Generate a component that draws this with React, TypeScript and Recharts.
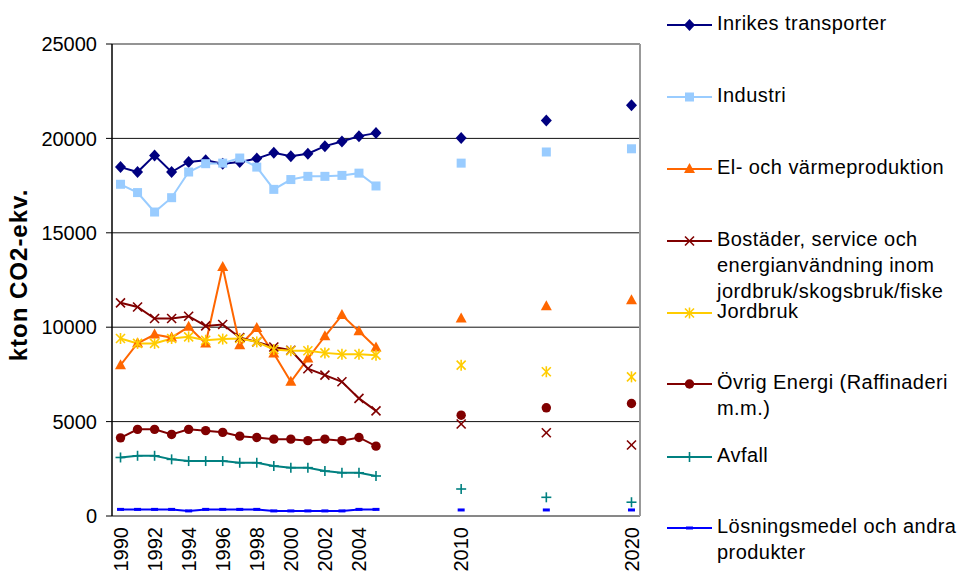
import React from 'react';
import { LineChart, Line, XAxis, YAxis, CartesianGrid, ReferenceLine } from 'recharts';

const FONT = '"Liberation Sans", Arial, sans-serif';

const YEARS = [
  1990, 1991, 1992, 1993, 1994, 1995, 1996, 1997, 1998, 1999, 2000, 2001, 2002, 2003, 2004, 2005,
  2006, 2007, 2008, 2009, 2010, 2011, 2012, 2013, 2014, 2015, 2016, 2017, 2018, 2019, 2020,
];
const HIST_YEARS = [1990, 1991, 1992, 1993, 1994, 1995, 1996, 1997, 1998, 1999, 2000, 2001, 2002, 2003, 2004, 2005];
const PROJ_YEARS = [2010, 2015, 2020];
const X_LABELS = [1990, 1992, 1994, 1996, 1998, 2000, 2002, 2004, 2010, 2020];
const Y_TICKS = [0, 5000, 10000, 15000, 20000, 25000];

const transportHist = [18480, 18220, 19100, 18220, 18750, 18840, 18660, 18750, 18930, 19240, 19060, 19190, 19590, 19840, 20120, 20280];
const transportProj = [20020, 20950, 21750];
const industriHist = [17570, 17130, 16100, 16860, 18220, 18660, 18690, 18960, 18480, 17300, 17820, 17990, 17990, 18040, 18160, 17480];
const industriProj = [18690, 19280, 19450];
const elHist = [7990, 9150, 9610, 9450, 10020, 9140, 13190, 9050, 9960, 8610, 7110, 8340, 9520, 10640, 9790, 8920];
const elProj = [10460, 11110, 11430];
const bostaderHist = [11290, 11070, 10460, 10460, 10580, 10070, 10140, 9450, 9220, 8950, 8780, 7800, 7460, 7110, 6230, 5570];
const bostaderProj = [4870, 4410, 3760];
const jordbrukHist = [9400, 9140, 9140, 9400, 9490, 9310, 9370, 9400, 9220, 8820, 8750, 8750, 8640, 8570, 8570, 8520];
const jordbrukProj = [7990, 7640, 7370];
const ovrigHist = [4140, 4590, 4590, 4320, 4590, 4520, 4430, 4230, 4160, 4070, 4070, 3990, 4070, 3990, 4160, 3700];
const ovrigProj = [5340, 5730, 5960];
const avfallHist = [3100, 3190, 3190, 3000, 2910, 2910, 2910, 2820, 2820, 2650, 2560, 2560, 2380, 2290, 2290, 2120];
const avfallProj = [1430, 990, 730];
const losningHist = [350, 350, 350, 350, 270, 350, 350, 350, 350, 270, 270, 270, 270, 270, 350, 350];
const losningProj = [320, 320, 320];

type Marker = 'diamond' | 'square' | 'triangle' | 'x' | 'asterisk' | 'circle' | 'plus' | 'dash';

const SERIES: { key: string; name: string[]; color: string; marker: Marker; hist: number[]; proj: number[] }[] = [
  { key: 'transport', name: ['Inrikes transporter'], color: '#000080', marker: 'diamond', hist: transportHist, proj: transportProj },
  { key: 'industri', name: ['Industri'], color: '#99CCFF', marker: 'square', hist: industriHist, proj: industriProj },
  { key: 'el', name: ['El- och värmeproduktion'], color: '#FF6600', marker: 'triangle', hist: elHist, proj: elProj },
  { key: 'bostader', name: ['Bostäder, service och', 'energianvändning inom', 'jordbruk/skogsbruk/fiske'], color: '#800000', marker: 'x', hist: bostaderHist, proj: bostaderProj },
  { key: 'jordbruk', name: ['Jordbruk'], color: '#FFCC00', marker: 'asterisk', hist: jordbrukHist, proj: jordbrukProj },
  { key: 'ovrig', name: ['Övrig Energi (Raffinaderi', 'm.m.)'], color: '#800000', marker: 'circle', hist: ovrigHist, proj: ovrigProj },
  { key: 'avfall', name: ['Avfall'], color: '#008080', marker: 'plus', hist: avfallHist, proj: avfallProj },
  { key: 'losning', name: ['Lösningsmedel och andra', 'produkter'], color: '#0000FF', marker: 'dash', hist: losningHist, proj: losningProj },
];

const LEGEND_Y = [25, 97, 169, 241, 313, 384, 457, 528];

const data = YEARS.map((year) => {
  const row: Record<string, number | null> = { year };
  SERIES.forEach((s) => {
    const hi = HIST_YEARS.indexOf(year);
    const pi = PROJ_YEARS.indexOf(year);
    row[s.key] = hi >= 0 ? s.hist[hi] : pi >= 0 ? s.proj[pi] : null;
  });
  return row;
});

const BOUNDS = [...YEARS.map((y) => y - 0.5), YEARS[YEARS.length - 1] + 0.5];

function markerShape(type: Marker, color: string, cx: number, cy: number, key?: string) {
  const sw = 1.6;
  switch (type) {
    case 'diamond':
      return <path key={key} d={`M${cx},${cy - 6} L${cx + 5.5},${cy} L${cx},${cy + 6} L${cx - 5.5},${cy} Z`} fill={color} />;
    case 'square':
      return <rect key={key} x={cx - 4.5} y={cy - 4.5} width={9} height={9} fill={color} />;
    case 'triangle':
      return <path key={key} d={`M${cx},${cy - 6} L${cx + 5.5},${cy + 4} L${cx - 5.5},${cy + 4} Z`} fill={color} />;
    case 'x':
      return (
        <g key={key} stroke={color} strokeWidth={sw}>
          <line x1={cx - 4.5} y1={cy - 4.5} x2={cx + 4.5} y2={cy + 4.5} />
          <line x1={cx - 4.5} y1={cy + 4.5} x2={cx + 4.5} y2={cy - 4.5} />
        </g>
      );
    case 'asterisk':
      return (
        <g key={key} stroke={color} strokeWidth={sw}>
          <line x1={cx - 4.5} y1={cy - 4.5} x2={cx + 4.5} y2={cy + 4.5} />
          <line x1={cx - 4.5} y1={cy + 4.5} x2={cx + 4.5} y2={cy - 4.5} />
          <line x1={cx} y1={cy - 5.5} x2={cx} y2={cy + 5.5} />
        </g>
      );
    case 'circle':
      return <circle key={key} cx={cx} cy={cy} r={4.7} fill={color} />;
    case 'plus':
      return (
        <g key={key} stroke={color} strokeWidth={sw}>
          <line x1={cx - 5} y1={cy} x2={cx + 5} y2={cy} />
          <line x1={cx} y1={cy - 5} x2={cx} y2={cy + 5} />
        </g>
      );
    case 'dash':
    default:
      return <rect key={key} x={cx - 3.5} y={cy - 1.5} width={7} height={3} fill={color} />;
  }
}

function makeDot(type: Marker, color: string) {
  return (props: any) => {
    const { cx, cy, index, value } = props;
    const k = `dot-${type}-${index}`;
    if (cx == null || cy == null || value == null || Number.isNaN(cx) || Number.isNaN(cy)) return <g key={k} />;
    return markerShape(type, color, cx, cy, k);
  };
}

const XLabelTick = (props: any) => {
  const { x, payload } = props;
  const ty = 527;
  return (
    <text
      x={x}
      y={ty}
      dy="0.36em"
      transform={`rotate(-90, ${x}, ${ty})`}
      textAnchor="end"
      fontSize={20}
      fontFamily={FONT}
      fill="#000"
    >
      {payload.value}
    </text>
  );
};

export default function App() {
  return (
    <div style={{ position: 'absolute', left: 0, top: 0, width: 960, height: 578, background: '#fff', fontFamily: FONT }}>
      <LineChart width={960} height={578} data={data} margin={{ top: 44, right: 320, bottom: 0, left: 0 }}>
        <CartesianGrid xAxisId="x" vertical={false} stroke="#111" strokeWidth={1} />
        <XAxis
          xAxisId="x"
          type="number"
          dataKey="year"
          domain={[1989.5, 2020.5]}
          allowDataOverflow
          ticks={BOUNDS}
          interval={0}
          tick={false}
          tickSize={6}
          tickLine={{ stroke: '#000', strokeWidth: 1 }}
          axisLine={{ stroke: '#000', strokeWidth: 1.5 }}
          height={0}
        />
        <XAxis
          xAxisId="lab"
          type="number"
          dataKey="year"
          domain={[1989.5, 2020.5]}
          allowDataOverflow
          ticks={X_LABELS}
          interval={0}
          tickLine={false}
          axisLine={false}
          tick={<XLabelTick />}
          height={62}
        />
        <YAxis
          type="number"
          domain={[0, 25000]}
          ticks={Y_TICKS}
          interval={0}
          width={112}
          tickSize={6}
          tickMargin={9}
          tickLine={{ stroke: '#000', strokeWidth: 1 }}
          axisLine={{ stroke: '#000', strokeWidth: 1.5 }}
          tick={{ fontSize: 20, fill: '#000', fontFamily: FONT }}
        />
        <ReferenceLine xAxisId="x" y={25000} stroke="#999" strokeWidth={1.5} />
        <ReferenceLine xAxisId="x" x={2020.5} stroke="#999" strokeWidth={2} />
        {SERIES.map((s) => (
          <Line
            key={s.key}
            xAxisId="x"
            type="linear"
            dataKey={s.key}
            name={s.name.join(' ')}
            stroke={s.color}
            strokeWidth={2}
            dot={makeDot(s.marker, s.color)}
            activeDot={false}
            connectNulls={false}
            isAnimationActive={false}
          />
        ))}
      </LineChart>
      <svg width={960} height={578} style={{ position: 'absolute', left: 0, top: 0, pointerEvents: 'none' }}>
        <text
          x={27}
          y={275}
          transform="rotate(-90, 27, 275)"
          textAnchor="middle"
          fontSize={24}
          fontWeight="bold"
          letterSpacing={1}
          fontFamily={FONT}
          fill="#000"
        >
          kton CO2-ekv.
        </text>
        {SERIES.map((s, i) => {
          const ly = LEGEND_Y[i];
          return (
            <g key={s.key}>
              <line x1={667} y1={ly} x2={712} y2={ly} stroke={s.color} strokeWidth={2} />
              {markerShape(s.marker, s.color, 689.5, ly)}
              <text x={717} y={ly + 5} fontSize={20} letterSpacing={0.45} fontFamily={FONT} fill="#000">
                {s.name.map((t, j) => (
                  <tspan key={j} x={717} dy={j === 0 ? 0 : 26}>
                    {t}
                  </tspan>
                ))}
              </text>
            </g>
          );
        })}
      </svg>
    </div>
  );
}
